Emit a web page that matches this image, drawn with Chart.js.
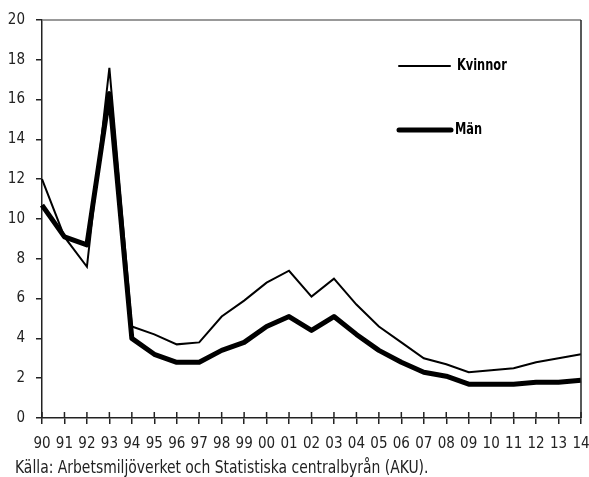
<!DOCTYPE html>
<html lang="sv">
<head>
<meta charset="UTF-8">
<title>Kvinnor och män</title>
<script src="https://cdn.jsdelivr.net/npm/chart.js"></script>
<style>
  html, body { margin: 0; padding: 0; background: #fff; }
  #wrap { width: 589px; height: 477px; }
</style>
</head>
<body>
<div id="wrap"><canvas id="chart" width="589" height="477"></canvas></div>
<script>
// Data
const years = ['90','91','92','93','94','95','96','97','98','99','00','01','02',
               '03','04','05','06','07','08','09','10','11','12','13','14'];
const kvinnor = [12.0, 9.1, 7.6, 17.6, 4.6, 4.2, 3.7, 3.8, 5.1, 5.9, 6.8, 7.4, 6.1,
                 7.0, 5.7, 4.6, 3.8, 3.0, 2.7, 2.3, 2.4, 2.5, 2.8, 3.0, 3.2];
const man = [10.7, 9.1, 8.7, 16.3, 4.0, 3.2, 2.8, 2.8, 3.4, 3.8, 4.6, 5.1, 4.4,
             5.1, 4.2, 3.4, 2.8, 2.3, 2.1, 1.7, 1.7, 1.7, 1.8, 1.8, 1.9];
const yTicks = [0, 2, 4, 6, 8, 10, 12, 14, 16, 18, 20];
const source = 'Källa: Arbetsmiljöverket och Statistiska centralbyrån (AKU).';

const FONT = '"DejaVu Sans Condensed", "Liberation Sans Narrow", sans-serif';

// narrow text helper: squeeze horizontally so the glyphs look taller
function narrowText(ctx, text, x, y, font, sx) {
  ctx.save();
  ctx.font = font;
  ctx.translate(x, y);
  ctx.scale(sx, 1);
  ctx.fillText(text, 0, 0);
  ctx.restore();
}

// frame, inner tick halves, in-plot legend and source line
const extras = {
  id: 'extras',
  afterDraw(chart) {
    const { ctx, chartArea: a, scales } = chart;
    ctx.save();
    // top (grey) and right (dark) frame lines
    ctx.lineWidth = 1.5;
    ctx.strokeStyle = '#777';
    ctx.beginPath(); ctx.moveTo(a.left, a.top); ctx.lineTo(a.right, a.top); ctx.stroke();
    ctx.strokeStyle = '#222';
    ctx.beginPath(); ctx.moveTo(a.right, a.top); ctx.lineTo(a.right, a.bottom); ctx.stroke();
    // x ticks cross the axis: draw the inner half
    scales.x.ticks.forEach((t, i) => {
      const x = scales.x.getPixelForTick(i);
      ctx.beginPath(); ctx.moveTo(x, a.bottom); ctx.lineTo(x, a.bottom - 6); ctx.stroke();
    });
    // legend
    ctx.strokeStyle = '#000';
    ctx.lineCap = 'round';
    ctx.lineWidth = 2;
    ctx.beginPath(); ctx.moveTo(399, 66); ctx.lineTo(450, 66); ctx.stroke();
    ctx.lineWidth = 5;
    ctx.beginPath(); ctx.moveTo(399, 130); ctx.lineTo(451, 130); ctx.stroke();
    ctx.fillStyle = '#000';
    ctx.textBaseline = 'middle';
    narrowText(ctx, 'Kvinnor', 457, 66, 'bold 16px ' + FONT, 0.79);
    narrowText(ctx, 'Män', 455, 130, 'bold 16px ' + FONT, 0.79);
    // source
    ctx.fillStyle = '#222';
    narrowText(ctx, source, 15, 468, '18px ' + FONT, 0.86);
    ctx.restore();
  }
};

new Chart(document.getElementById('chart'), {
  type: 'line',
  data: {
    labels: years,
    datasets: [
      { label: 'Kvinnor', data: kvinnor, borderColor: '#000', borderWidth: 2,
        pointRadius: 0, tension: 0, fill: false },
      { label: 'Män', data: man, borderColor: '#000', borderWidth: 5,
        pointRadius: 0, tension: 0, fill: false, borderJoinStyle: 'round' }
    ]
  },
  options: {
    responsive: false,
    animation: false,
    layout: { padding: { top: 19, right: 8, left: 0, bottom: 0 } },
    plugins: { legend: { display: false }, tooltip: { enabled: false } },
    scales: {
      x: {
        offset: false,
        afterFit(s) { s.height = 59; s.paddingRight = 8; s.paddingLeft = 0; },
        grid: { drawOnChartArea: false, drawTicks: true, tickLength: 6,
                color: '#222', lineWidth: 1.5 },
        border: { color: '#222', width: 1.5 },
        ticks: { color: '#222', font: { family: FONT, size: 15 }, padding: 11,
                 maxRotation: 0, autoSkip: false }
      },
      y: {
        min: 0, max: 20,
        afterFit(s) { s.width = 42; },
        afterBuildTicks(s) { s.ticks = yTicks.map(v => ({ value: v })); },
        grid: { drawOnChartArea: false, drawTicks: true, tickLength: 6,
                color: '#222', lineWidth: 1.5 },
        border: { color: '#222', width: 1.5 },
        ticks: { color: '#222', font: { family: FONT, size: 15 }, padding: 11 }
      }
    }
  },
  plugins: [extras]
});
</script>
</body>
</html>
